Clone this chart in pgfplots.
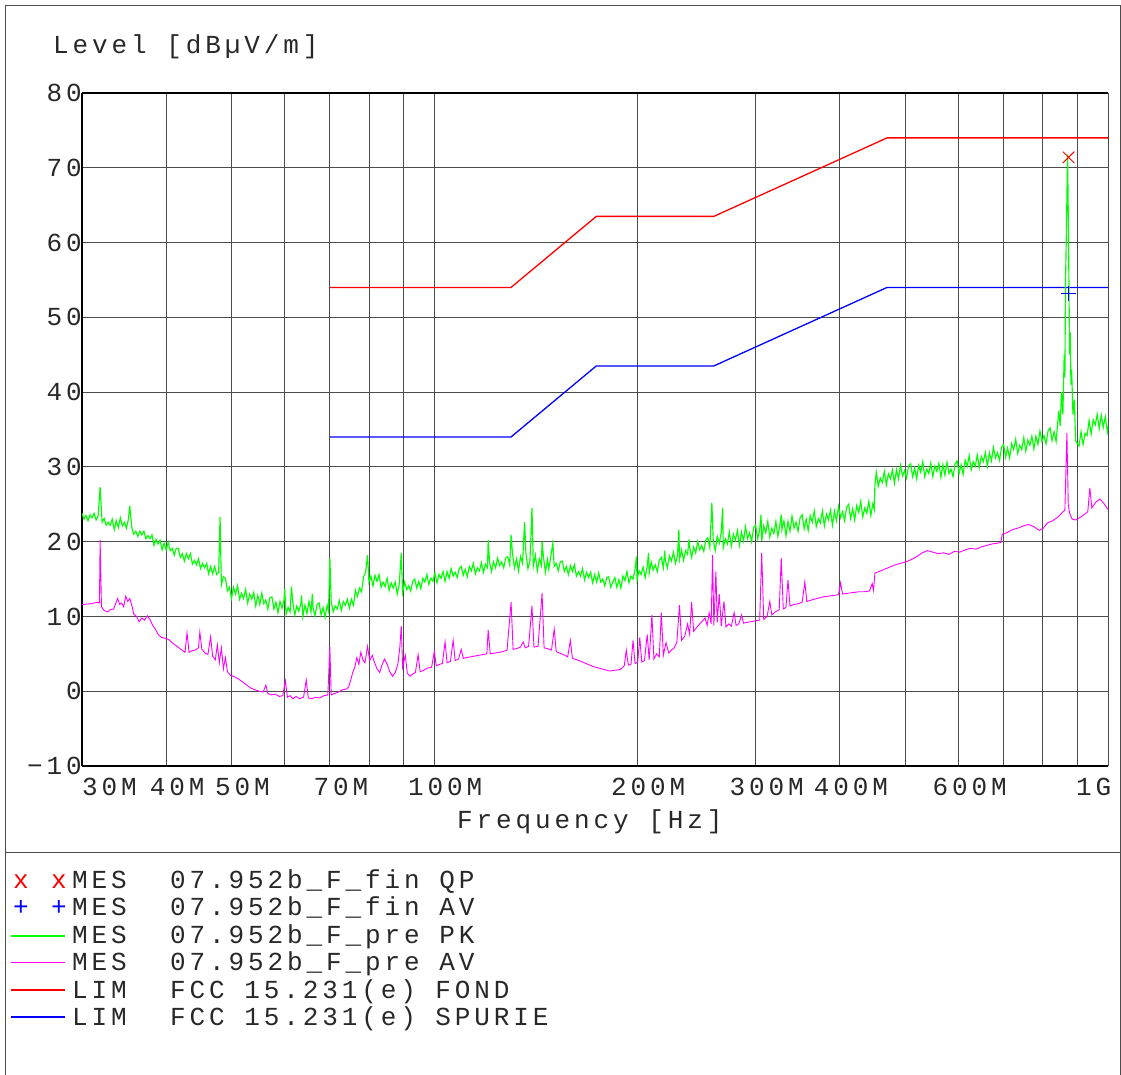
\documentclass[border=0pt]{standalone}
\usepackage{fontspec}
\setmainfont{Liberation Mono}[LetterSpace=15]
\usepackage{pgfplots}
\pgfplotsset{compat=1.18}
\definecolor{pk}{RGB}{0,255,0}
\definecolor{av}{RGB}{255,0,255}
\definecolor{lr}{RGB}{255,0,0}
\definecolor{lb}{RGB}{0,0,255}
\definecolor{txt}{RGB}{40,40,40}
\begin{document}
\fontsize{26}{30}\selectfont\spaceskip=18.72pt\relax
\begin{tikzpicture}[every node/.style={text=txt}]
\useasboundingbox (-82pt,-309pt) rectangle (1039pt,766pt);
\begin{axis}[
  at={(0pt,0pt)}, anchor=south west,
  scale only axis, width=1026pt, height=673pt,
  xmin=1.4771, xmax=3, ymin=-10, ymax=80,
  axis x line*=box, axis y line*=left,
  axis line style={black, line width=1.8pt},
  xtick={1.6021,1.6990,1.8451,2,2.3010,2.4771,2.6021,2.7782},
  xticklabels={40M,50M,70M,100M,200M,300M,400M,600M},
  minor xtick={1.7782,1.9031,1.9542,2.6990,2.8451,2.9031,2.9542,3},
  ytick={-10,0,10,20,30,40,50,60,70,80},
  yticklabels={−10,0,10,20,30,40,50,60,70,80},
  grid=both,
  grid style={black!70, line width=0.9pt},
  minor grid style={black!70, line width=0.9pt},
  major tick length=0pt, minor tick length=0pt,
  xticklabel style={anchor=north, inner sep=0pt, yshift=-12pt, xshift=11pt, text=txt},
  yticklabel style={anchor=east, inner sep=0pt, xshift=0pt, text=txt},
]
% limits
\addplot[lr, line width=1.3pt] coordinates {(1.8451,54) (2.1139,54) (2.2405,63.5) (2.4150,63.5) (2.6721,74) (3,74)};
\addplot[lb, line width=1.3pt] coordinates {(1.8451,34) (2.1139,34) (2.2405,43.5) (2.4150,43.5) (2.6721,54) (3,54)};
% PK
\addplot[pk, line width=1.15pt] table {
1.477 23.8
1.480 23.0
1.483 23.5
1.486 22.8
1.489 23.6
1.492 23.2
1.495 23.8
1.498 22.9
1.501 23.4
1.504 27.3
1.507 22.6
1.510 23.1
1.513 22.2
1.516 22.6
1.519 22.2
1.522 23.0
1.525 21.6
1.528 22.8
1.531 21.9
1.534 23.2
1.537 22.1
1.540 22.6
1.543 21.8
1.546 23.0
1.548 24.8
1.551 21.9
1.554 21.0
1.557 21.4
1.560 20.7
1.563 21.4
1.566 20.9
1.569 21.4
1.572 20.4
1.575 20.8
1.578 20.4
1.581 20.9
1.584 19.5
1.587 20.3
1.590 19.7
1.593 20.2
1.596 18.9
1.599 19.8
1.602 18.9
1.605 19.9
1.608 18.8
1.611 19.1
1.614 18.2
1.617 19.1
1.620 19.1
1.623 17.9
1.626 18.4
1.629 17.4
1.632 18.4
1.635 17.7
1.638 18.4
1.641 17.0
1.644 17.5
1.647 16.9
1.650 17.7
1.653 16.4
1.656 17.1
1.659 16.5
1.662 17.1
1.665 15.7
1.668 16.7
1.671 15.7
1.674 16.7
1.677 15.6
1.680 15.9
1.682 23.3
1.684 14.2
1.687 15.3
1.690 15.1
1.693 13.4
1.696 13.9
1.699 12.4
1.702 13.9
1.705 13.0
1.708 14.1
1.711 12.3
1.714 13.1
1.717 12.4
1.720 13.6
1.723 11.8
1.726 13.0
1.729 12.3
1.732 13.2
1.735 11.4
1.738 12.8
1.741 11.6
1.744 13.1
1.747 11.7
1.750 12.2
1.753 11.0
1.756 12.5
1.759 12.6
1.762 11.0
1.765 11.9
1.768 10.5
1.771 12.0
1.774 11.1
1.777 12.2
1.778 13.7
1.780 10.3
1.783 11.2
1.786 10.6
1.788 14.0
1.790 11.9
1.793 10.2
1.796 11.4
1.799 10.7
1.802 11.7
1.803 12.8
1.805 10.0
1.808 11.5
1.811 10.4
1.814 12.0
1.817 10.6
1.819 13.0
1.820 11.2
1.823 10.1
1.826 11.6
1.829 11.8
1.832 10.2
1.835 11.2
1.838 9.9
1.841 11.5
1.843 10.7
1.845 17.8
1.847 12.0
1.850 10.6
1.853 11.4
1.856 11.0
1.859 12.1
1.862 10.8
1.865 12.0
1.868 11.5
1.871 12.3
1.874 11.1
1.877 12.3
1.880 11.5
1.883 13.5
1.886 12.7
1.889 13.8
1.892 13.3
1.895 15.3
1.898 15.9
1.901 18.2
1.903 14.6
1.906 15.4
1.909 14.1
1.912 15.5
1.915 14.7
1.918 15.6
1.921 13.9
1.924 14.6
1.927 14.0
1.930 15.1
1.933 13.5
1.936 14.5
1.939 13.8
1.942 14.6
1.945 13.0
1.948 14.3
1.951 18.5
1.953 13.2
1.956 14.6
1.959 13.6
1.962 14.1
1.965 13.4
1.968 14.7
1.971 15.0
1.974 13.8
1.977 14.7
1.980 13.7
1.983 15.1
1.986 14.6
1.989 15.6
1.992 14.3
1.995 15.1
1.998 14.7
2.001 15.8
2.004 14.5
2.007 15.6
2.010 15.1
2.013 16.0
2.016 14.7
2.019 16.0
2.022 15.1
2.025 16.4
2.028 15.4
2.031 15.9
2.034 15.2
2.037 16.4
2.040 16.7
2.043 15.5
2.046 16.3
2.049 15.3
2.052 16.7
2.055 16.1
2.058 17.1
2.061 15.7
2.064 16.5
2.067 16.1
2.070 17.2
2.073 15.9
2.076 17.0
2.079 16.5
2.080 20.2
2.082 17.3
2.085 16.0
2.088 17.3
2.091 16.5
2.094 17.8
2.097 16.8
2.100 17.3
2.103 16.5
2.106 17.8
2.109 18.0
2.112 16.9
2.114 20.9
2.116 18.5
2.119 16.5
2.122 17.7
2.125 16.1
2.128 18.0
2.131 17.1
2.134 22.6
2.136 18.5
2.139 16.4
2.142 17.4
2.145 24.5
2.147 16.7
2.150 18.2
2.153 16.1
2.156 17.7
2.159 16.8
2.160 20.0
2.162 18.0
2.165 15.9
2.168 17.6
2.170 16.3
2.173 18.1
2.176 19.8
2.178 16.7
2.181 17.1
2.184 16.1
2.187 17.3
2.190 17.4
2.193 16.0
2.196 16.7
2.199 15.6
2.202 16.8
2.205 16.0
2.208 16.9
2.211 15.4
2.214 16.0
2.217 15.4
2.220 16.4
2.223 14.9
2.226 15.9
2.229 15.2
2.232 15.9
2.235 14.5
2.238 15.6
2.241 14.6
2.244 15.8
2.247 14.6
2.250 15.0
2.253 14.1
2.256 15.2
2.259 15.3
2.262 13.9
2.265 14.6
2.268 15.2
2.271 13.9
2.274 14.9
2.277 13.8
2.280 15.4
2.283 14.8
2.286 16.0
2.289 14.5
2.292 15.4
2.295 15.0
2.298 16.3
2.300 18.0
2.301 14.9
2.304 16.1
2.307 15.6
2.310 16.6
2.313 15.2
2.316 16.7
2.318 18.5
2.319 15.8
2.322 17.3
2.325 16.2
2.328 16.9
2.331 16.0
2.334 17.5
2.337 17.9
2.340 16.5
2.342 18.8
2.343 17.5
2.346 16.5
2.349 18.1
2.352 17.4
2.355 18.6
2.358 17.1
2.361 18.1
2.363 21.6
2.364 17.6
2.367 18.9
2.370 17.5
2.373 18.8
2.376 18.3
2.378 20.3
2.379 19.3
2.382 17.9
2.385 19.3
2.388 18.5
2.391 20.0
2.394 18.9
2.397 19.5
2.400 18.7
2.403 20.2
2.406 20.5
2.409 19.2
2.412 25.2
2.414 20.3
2.417 18.8
2.420 20.7
2.423 19.8
2.426 21.3
2.428 24.5
2.429 19.2
2.432 20.4
2.435 19.7
2.438 21.3
2.441 19.4
2.444 21.0
2.447 20.2
2.450 21.5
2.453 19.5
2.456 21.3
2.459 20.1
2.462 22.0
2.465 20.4
2.468 21.2
2.471 20.0
2.474 21.9
2.477 22.2
2.480 20.4
2.483 21.6
2.485 23.6
2.486 20.1
2.489 22.1
2.492 21.2
2.495 22.7
2.498 20.6
2.501 21.8
2.504 21.1
2.507 22.7
2.510 20.7
2.513 22.3
2.515 23.6
2.516 21.6
2.519 22.8
2.522 20.8
2.525 22.7
2.528 21.4
2.531 23.4
2.534 21.8
2.537 22.6
2.540 21.4
2.543 23.2
2.546 23.6
2.549 21.7
2.552 23.0
2.555 21.5
2.558 23.5
2.561 22.6
2.564 24.1
2.567 22.0
2.570 23.1
2.573 22.5
2.576 24.1
2.579 22.1
2.582 23.7
2.585 22.9
2.588 24.2
2.591 22.2
2.594 24.1
2.597 22.8
2.600 24.7
2.603 23.2
2.606 24.0
2.609 22.8
2.612 24.6
2.615 25.0
2.618 23.1
2.621 24.4
2.624 22.9
2.627 24.8
2.630 23.9
2.633 25.4
2.636 23.3
2.639 24.5
2.642 23.8
2.645 25.4
2.648 23.5
2.651 25.1
2.653 24.3
2.654 27.5
2.656 29.3
2.659 27.4
2.662 28.5
2.665 27.9
2.668 29.4
2.671 27.6
2.674 29.1
2.677 28.4
2.680 29.6
2.683 27.8
2.686 29.6
2.689 28.4
2.692 30.2
2.695 28.8
2.698 29.5
2.701 28.5
2.704 30.1
2.707 30.4
2.710 28.7
2.713 29.8
2.716 28.4
2.719 30.2
2.722 29.3
2.725 30.7
2.728 28.7
2.731 29.7
2.734 29.1
2.737 30.5
2.740 28.7
2.743 30.1
2.746 29.4
2.749 30.5
2.752 28.6
2.755 30.3
2.758 28.9
2.761 30.6
2.764 29.1
2.767 29.7
2.770 28.7
2.773 30.4
2.776 30.8
2.779 29.1
2.782 30.3
2.785 29.0
2.788 30.9
2.791 30.1
2.794 31.5
2.797 29.6
2.800 30.7
2.803 30.1
2.806 31.6
2.809 29.9
2.812 31.4
2.815 30.7
2.818 31.9
2.821 30.1
2.824 31.9
2.827 30.8
2.830 32.6
2.833 31.2
2.836 31.9
2.839 30.9
2.842 32.6
2.845 33.0
2.848 31.3
2.851 32.5
2.854 31.2
2.857 33.1
2.860 32.3
2.863 33.7
2.866 31.8
2.869 32.9
2.872 32.3
2.875 33.9
2.878 32.1
2.881 33.6
2.884 32.9
2.887 34.1
2.890 32.4
2.893 34.1
2.896 33.0
2.899 34.8
2.902 33.4
2.905 34.2
2.908 33.1
2.911 34.8
2.914 35.2
2.917 33.5
2.920 34.7
2.923 33.4
2.925 35.5
2.927 37.5
2.929 35.5
2.931 40.0
2.933 37.0
2.935 45.0
2.936 42.0
2.937 55.0
2.938 60.0
2.940 71.8
2.941 64.0
2.942 55.0
2.943 45.0
2.944 48.0
2.945 41.0
2.946 43.0
2.948 37.0
2.950 39.0
2.952 33.5
2.954 33.2
2.957 32.8
2.960 34.7
2.963 33.0
2.966 34.5
2.969 34.2
2.972 36.2
2.975 34.4
2.978 36.3
2.981 35.6
2.984 37.0
2.987 35.1
2.990 36.9
2.993 35.3
2.996 36.7
2.999 34.7
3.000 35.4
};
% AV
\addplot[av, line width=0.9pt] table {
1.477 11.6
1.490 11.7
1.500 11.9
1.503 11.8
1.504 20.2
1.506 11.3
1.510 10.8
1.515 10.6
1.519 10.9
1.524 11.0
1.530 12.4
1.533 11.6
1.536 11.8
1.539 11.3
1.542 12.7
1.545 12.0
1.548 12.4
1.551 11.5
1.554 10.3
1.558 10.0
1.562 9.3
1.566 9.8
1.570 9.5
1.574 10.1
1.578 9.6
1.582 8.8
1.586 8.3
1.590 7.6
1.595 7.2
1.600 7.1
1.606 6.9
1.612 6.4
1.618 6.0
1.624 5.6
1.630 5.2
1.633 7.8
1.636 5.2
1.640 5.4
1.645 5.5
1.650 5.8
1.652 7.9
1.655 5.6
1.660 5.1
1.664 4.9
1.668 7.3
1.671 4.7
1.675 4.2
1.678 6.2
1.681 3.8
1.684 5.8
1.687 3.0
1.690 4.5
1.693 2.6
1.698 2.1
1.704 1.9
1.710 1.6
1.716 1.2
1.722 0.8
1.728 0.4
1.734 0.2
1.740 0.0
1.746 -0.1
1.750 0.8
1.753 -0.3
1.758 -0.5
1.764 -0.4
1.770 -0.7
1.775 -0.6
1.779 1.4
1.782 -0.8
1.786 -0.6
1.790 -1.0
1.795 -0.7
1.800 -1.0
1.806 -0.8
1.810 1.5
1.813 -0.9
1.818 -1.0
1.824 -0.8
1.830 -0.9
1.836 -0.6
1.842 -0.5
1.845 5.9
1.847 -0.5
1.852 -0.3
1.858 -0.1
1.864 0.2
1.870 0.3
1.873 0.6
1.876 1.5
1.879 2.5
1.882 3.2
1.885 4.5
1.888 3.6
1.891 5.2
1.894 4.2
1.897 3.8
1.901 6.0
1.904 4.1
1.908 4.8
1.911 3.9
1.915 3.0
1.919 2.5
1.922 3.4
1.926 4.3
1.930 3.6
1.934 2.6
1.938 2.0
1.942 2.5
1.946 3.6
1.949 6.0
1.951 8.7
1.953 3.2
1.957 4.8
1.960 2.4
1.964 2.0
1.968 2.3
1.972 2.5
1.976 4.9
1.979 2.6
1.984 2.8
1.990 3.1
1.996 3.2
2.000 5.3
2.003 3.4
2.008 3.6
2.012 3.7
2.016 6.6
2.019 3.8
2.024 4.0
2.028 6.8
2.031 4.1
2.036 4.3
2.040 5.6
2.043 4.4
2.048 4.5
2.054 4.6
2.060 4.7
2.066 4.8
2.072 4.9
2.078 5.0
2.080 8.2
2.083 5.0
2.090 5.1
2.096 5.2
2.102 5.3
2.108 5.5
2.114 11.9
2.117 5.6
2.122 5.7
2.128 5.9
2.132 6.6
2.135 5.8
2.140 6.0
2.145 11.4
2.148 5.9
2.154 6.0
2.160 13.1
2.163 5.8
2.168 5.7
2.174 5.5
2.178 8.3
2.181 5.3
2.186 5.1
2.192 4.9
2.198 4.6
2.202 6.8
2.205 4.4
2.212 4.2
2.220 3.9
2.228 3.6
2.236 3.3
2.244 3.1
2.252 2.9
2.260 2.7
2.268 2.8
2.276 2.9
2.282 3.4
2.285 5.5
2.288 3.5
2.292 3.6
2.295 6.8
2.298 3.7
2.302 3.9
2.305 7.2
2.308 3.9
2.312 4.1
2.316 7.6
2.319 4.2
2.323 10.2
2.326 4.3
2.330 5.0
2.334 4.6
2.337 10.5
2.340 4.8
2.344 6.5
2.348 5.1
2.352 5.5
2.356 5.8
2.360 6.5
2.364 11.5
2.367 6.8
2.372 7.4
2.376 9.0
2.379 7.6
2.382 11.9
2.385 8.0
2.390 8.6
2.394 9.0
2.398 9.4
2.402 9.8
2.405 8.8
2.408 10.5
2.411 9.0
2.413 18.2
2.415 8.8
2.418 16.0
2.420 9.2
2.423 13.0
2.426 8.7
2.430 12.0
2.433 8.6
2.437 9.0
2.441 8.7
2.445 10.5
2.448 8.8
2.452 9.0
2.456 10.2
2.459 9.1
2.464 9.2
2.470 9.3
2.476 9.4
2.483 9.5
2.486 18.5
2.489 9.6
2.494 10.0
2.498 12.0
2.501 10.2
2.506 10.6
2.512 10.9
2.515 17.8
2.518 11.0
2.522 11.2
2.525 14.9
2.528 11.4
2.534 11.6
2.540 11.7
2.546 11.9
2.550 14.6
2.553 12.0
2.560 12.2
2.568 12.4
2.576 12.6
2.584 12.7
2.592 12.8
2.600 12.9
2.603 14.5
2.606 13.0
2.614 13.1
2.622 13.2
2.630 13.3
2.638 13.3
2.646 13.4
2.650 14.4
2.652 13.5
2.654 15.8
2.660 16.0
2.668 16.3
2.676 16.6
2.684 16.9
2.692 17.1
2.700 17.3
2.708 17.6
2.716 18.0
2.724 18.5
2.732 18.8
2.740 18.6
2.748 18.4
2.756 18.5
2.764 18.3
2.772 18.7
2.780 18.6
2.788 18.9
2.796 19.1
2.804 19.0
2.812 19.3
2.820 19.5
2.828 19.7
2.836 19.8
2.841 19.9
2.843 21.0
2.850 21.2
2.858 21.6
2.866 21.8
2.874 22.1
2.882 22.3
2.890 22.0
2.898 21.5
2.904 21.8
2.910 22.5
2.918 22.8
2.926 23.3
2.932 23.9
2.936 24.2
2.939 34.5
2.941 25.0
2.943 23.8
2.947 23.0
2.952 22.9
2.958 23.2
2.964 23.6
2.970 24.0
2.973 27.2
2.976 24.5
2.982 25.3
2.988 25.7
2.994 25.1
3.000 24.3
};
% final measurements
\addplot[only marks, mark=x, mark size=8pt, lr, line width=1pt] coordinates {(2.9415,71.4)};
\addplot[only marks, mark=+, mark size=7.5pt, lb, line width=1pt] coordinates {(2.9415,53.2)};
\end{axis}
% extra x labels
\node[anchor=north west, inner sep=0pt] at (0pt,-12pt) {30M};
\node[anchor=north east, inner sep=0pt] at (1029.5pt,-12pt) {1G};
% titles
\node[anchor=base west, inner sep=0pt] at (-29pt,712pt) {Level [dBµV/m]};
\node[anchor=base west, inner sep=0pt] at (375pt,-63pt) {Frequency [Hz]};
% frame
\draw[black!70, line width=1pt] (-76pt,-309pt) -- (-76pt,760pt) -- (1038pt,760pt) -- (1038pt,-309pt);
\draw[black!70, line width=1pt] (-76pt,-87pt) -- (1038pt,-87pt);
% legend
\node[anchor=base, inner sep=0pt, text=lr] at (-61pt,-123pt) {x};
\node[anchor=base, inner sep=0pt, text=lr] at (-23pt,-123pt) {x};
\node[anchor=base, inner sep=0pt, text=lb] at (-61pt,-150pt) {+};
\node[anchor=base, inner sep=0pt, text=lb] at (-23pt,-150pt) {+};
\draw[pk, line width=1.2pt] (-71pt,-170pt) -- (-17pt,-170pt);
\draw[av, line width=1pt] (-71pt,-197pt) -- (-17pt,-197pt);
\draw[lr, line width=1.3pt] (-71pt,-224pt) -- (-17pt,-224pt);
\draw[lb, line width=1.3pt] (-71pt,-251pt) -- (-17pt,-251pt);
\node[anchor=base west, inner sep=0pt] at (-10pt,-123pt) {MES};
\node[anchor=base west, inner sep=0pt] at (-10pt,-150pt) {MES};
\node[anchor=base west, inner sep=0pt] at (-10pt,-177.5pt) {MES};
\node[anchor=base west, inner sep=0pt] at (-10pt,-204.5pt) {MES};
\node[anchor=base west, inner sep=0pt] at (-10pt,-232pt) {LIM};
\node[anchor=base west, inner sep=0pt] at (-10pt,-259pt) {LIM};
\node[anchor=base west, inner sep=0pt] at (88pt,-123pt) {07.952b\_F\_fin QP};
\node[anchor=base west, inner sep=0pt] at (88pt,-150pt) {07.952b\_F\_fin AV};
\node[anchor=base west, inner sep=0pt] at (88pt,-177.5pt) {07.952b\_F\_pre PK};
\node[anchor=base west, inner sep=0pt] at (88pt,-204.5pt) {07.952b\_F\_pre AV};
\node[anchor=base west, inner sep=0pt] at (88pt,-232pt) {FCC 15.231(e) FOND};
\node[anchor=base west, inner sep=0pt] at (88pt,-259pt) {FCC 15.231(e) SPURIE};
\end{tikzpicture}
\end{document}
